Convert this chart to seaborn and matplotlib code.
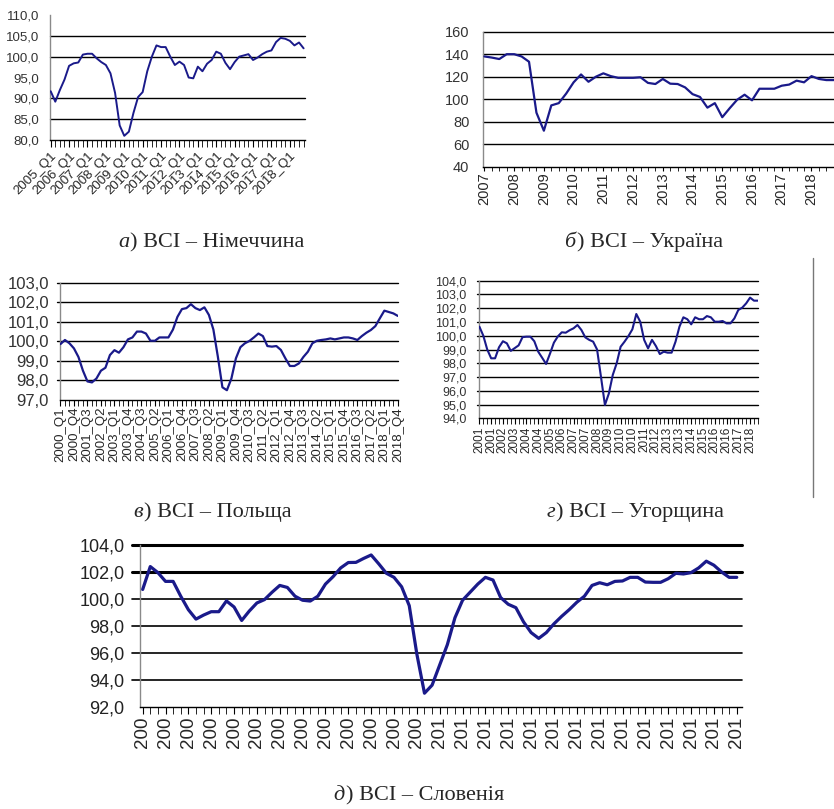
import matplotlib
matplotlib.use("Agg")
import matplotlib.pyplot as plt
import seaborn as sns
import numpy as np
import pandas as pd
from matplotlib.ticker import FuncFormatter
from matplotlib.lines import Line2D
from matplotlib import font_manager

# ---------------- data ----------------
de_labels = ["2005_Q1", "2006_Q1", "2007_Q1", "2008_Q1", "2009_Q1", "2010_Q1", "2011_Q1",
             "2012_Q1", "2013_Q1", "2014_Q1", "2015_Q1", "2016_Q1", "2017_Q1", "2018_Q1"]
de_values = [91.7, 89.2, 92.0, 94.5, 97.8, 98.4, 98.6, 100.5, 100.7, 100.7,
             99.6, 98.7, 98.0, 96.0, 91.3, 83.5, 81.0, 82.0, 86.5, 90.3,
             91.5, 96.5, 100.0, 102.7, 102.3, 102.3, 100.0, 98.0, 98.8, 98.0,
             95.0, 94.8, 97.6, 96.5, 98.3, 99.2, 101.2, 100.7, 98.5, 97.0,
             98.7, 100.0, 100.3, 100.6, 99.2, 99.8, 100.6, 101.2, 101.5, 103.5,
             104.5, 104.3, 103.8, 102.7, 103.4, 102.0]

ua_labels = ["2007", "2008", "2009", "2010", "2011", "2012", "2013", "2014", "2015",
             "2016", "2017", "2018"]
ua_values = [138.0, 137.0, 135.7, 140.0, 140.0, 138.0, 133.3, 88.0, 72.0, 94.5,
             96.5, 105.0, 115.0, 122.0, 115.5, 120.0, 123.0, 120.5, 119.0, 119.0,
             119.0, 119.5, 114.5, 113.5, 118.0, 113.8, 113.5, 110.5, 104.5, 102.0,
             92.5, 96.5, 84.0, 92.0, 99.5, 104.0, 99.0, 109.3, 109.3, 109.3,
             112.0, 113.0, 116.5, 115.0, 120.5, 118.0, 117.0, 117.0]

pl_labels = ["2000_Q1", "2000_Q4", "2001_Q3", "2002_Q2", "2003_Q1", "2003_Q4", "2004_Q3",
             "2005_Q2", "2006_Q1", "2006_Q4", "2007_Q3", "2008_Q2", "2009_Q1", "2009_Q4",
             "2010_Q3", "2011_Q2", "2012_Q1", "2012_Q4", "2013_Q3", "2014_Q2", "2015_Q1",
             "2015_Q4", "2016_Q3", "2017_Q2", "2018_Q1", "2018_Q4"]
pl_values = [99.86, 100.07, 99.9, 99.64, 99.2, 98.5, 97.95, 97.9, 98.1, 98.5,
             98.65, 99.3, 99.55, 99.42, 99.7, 100.1, 100.2, 100.5, 100.5, 100.4,
             100.03, 100.03, 100.2, 100.2, 100.2, 100.6, 101.25, 101.65, 101.7, 101.9,
             101.7, 101.6, 101.74, 101.35, 100.6, 99.2, 97.65, 97.5, 98.1, 99.13,
             99.7, 99.9, 100.02, 100.2, 100.4, 100.27, 99.76, 99.73, 99.76, 99.56,
             99.13, 98.74, 98.74, 98.87, 99.2, 99.47, 99.9, 100.03, 100.07, 100.1,
             100.15, 100.1, 100.15, 100.2, 100.2, 100.15, 100.07, 100.27, 100.44, 100.58,
             100.78, 101.18, 101.57, 101.5, 101.43, 101.3]

hu_labels = ["2001", "2001", "2002", "2003", "2004", "2004", "2005", "2006", "2007", "2007",
             "2008", "2009", "2010", "2010", "2011", "2012", "2013", "2013", "2014", "2015",
             "2016", "2016", "2017", "2018"]
hu_values = [100.66, 100.0, 99.0, 98.36, 98.36, 99.16, 99.6, 99.45, 98.9, 99.1,
             99.3, 99.9, 99.93, 99.93, 99.6, 98.84, 98.4, 97.95, 98.7, 99.5,
             99.95, 100.25, 100.22, 100.4, 100.54, 100.78, 100.42, 99.88, 99.7, 99.57,
             99.0, 97.0, 94.97, 95.8, 97.15, 98.0, 99.2, 99.57, 99.98, 100.47,
             101.58, 101.02, 99.7, 99.08, 99.7, 99.25, 98.67, 98.84, 98.77, 98.77,
             99.57, 100.66, 101.34, 101.2, 100.83, 101.34, 101.2, 101.2, 101.43, 101.34,
             101.02, 101.02, 101.07, 100.9, 100.9, 101.26, 101.87, 102.04, 102.35, 102.77,
             102.55, 102.55]

si_labels = ["200"] * 13 + ["201"] * 14
si_values = [100.7, 102.4, 101.95, 101.3, 101.3, 100.2, 99.2, 98.5, 98.8, 99.05,
             99.05, 99.85, 99.4, 98.4, 99.1, 99.7, 99.95, 100.5, 101.0, 100.85,
             100.2, 99.9, 99.84, 100.2, 101.1, 101.65, 102.3, 102.7, 102.71, 103.0,
             103.26, 102.6, 101.9, 101.6, 100.9, 99.5, 95.9, 93.0, 93.6, 95.1,
             96.6, 98.6, 99.9, 100.5, 101.1, 101.6, 101.4, 100.1, 99.6, 99.35,
             98.3, 97.5, 97.07, 97.5, 98.15, 98.7, 99.2, 99.75, 100.2, 101.0,
             101.2, 101.05, 101.3, 101.33, 101.6, 101.6, 101.25, 101.23, 101.23, 101.5,
             101.9, 101.85, 101.95, 102.3, 102.8, 102.5, 102.0, 101.6, 101.6]

captions = [("а", ") BCI – Німеччина"), ("б", ") BCI – Україна"),
            ("в", ") BCI – Польща"), ("г", ") BCI – Угорщина"),
            ("д", ") BCI – Словенія")]

# ---------------- style ----------------
sns.set_style("white")
plt.rcParams["font.family"] = ["Liberation Sans", "DejaVu Sans"]
names = {f.name for f in font_manager.fontManager.ttflist}
NARROW = "Liberation Sans Narrow" if "Liberation Sans Narrow" in names else "Liberation Sans"
SERIF = ["Liberation Serif", "DejaVu Serif"]

W, H = 834, 809
fig = plt.figure(figsize=(W / 100, H / 100), dpi=100)
LINE = "#1a1a8a"
comma = FuncFormatter(lambda v, p: f"{v:.1f}".replace(".", ","))


def add_ax(l, t, r, b):
    return fig.add_axes([l / W, 1 - b / H, (r - l) / W, (b - t) / H])


def base(ax, values, lw):
    df = pd.DataFrame({"i": np.arange(len(values)), "v": values})
    sns.lineplot(data=df, x="i", y="v", ax=ax, color=LINE, lw=lw, zorder=3)
    ax.set_xlabel("")
    ax.set_ylabel("")
    for s in ("top", "right"):
        ax.spines[s].set_visible(False)
    ax.spines["left"].set_color("#8a8a8a")
    ax.spines["left"].set_linewidth(1.0)
    ax.spines["bottom"].set_color("black")
    ax.spines["bottom"].set_linewidth(1.0)
    ax.set_facecolor("none")


def grid(ax, levels, lw=1.0, ext=0.0, thick=()):
    for y in levels:
        ax.axhline(y, xmin=-ext, xmax=1, color="black",
                   lw=(2.2 if y in thick else lw), zorder=1, clip_on=False)


# ---- а) Germany ----
ax = add_ax(50, 15, 305, 140)
base(ax, de_values, 1.4)
ax.set_xlim(-0.15, 55.3)
ax.set_ylim(80, 110)
ax.set_yticks(np.arange(80, 111, 5))
ax.yaxis.set_major_formatter(comma)
grid(ax, [85, 90, 100, 105])
ax.set_xticks(np.arange(len(de_values)), minor=True)
ax.set_xticks(np.arange(0, len(de_values), 4))
ax.set_xticklabels(de_labels, rotation=45, ha="right", va="top", rotation_mode="anchor")
ax.tick_params(axis="x", which="both", length=5, color="black", direction="out",
               labelsize=9.5, pad=2, bottom=True)
ax.tick_params(axis="y", length=0, pad=8, labelsize=9.5, labelcolor="#333333")

# ---- б) Ukraine ----
ax = add_ax(483.3, 31.7, 836, 166.7)
base(ax, ua_values, 1.6)
ax.set_xlim(-0.15, 47.3)
ax.set_ylim(40, 160)
ax.set_yticks(np.arange(40, 161, 20))
grid(ax, [60, 80, 100, 120, 140, 160])
ax.set_xticks(np.arange(len(ua_values)), minor=True)
ax.set_xticks(np.arange(0, len(ua_values), 4))
ax.set_xticklabels(ua_labels, rotation=90, ha="center", va="top")
ax.tick_params(axis="x", which="both", length=3, color="black", direction="out",
               labelsize=10.5, pad=1, bottom=True)
ax.tick_params(axis="y", length=0, pad=10, labelsize=10.5, labelcolor="#333333")

# ---- в) Poland ----
ax = add_ax(60, 282.7, 398.3, 400)
base(ax, pl_values, 1.6)
ax.set_xlim(-0.1, 75.1)
ax.set_ylim(97, 103)
ax.set_yticks(np.arange(97, 103.1, 1))
ax.yaxis.set_major_formatter(comma)
grid(ax, [98, 99, 100, 101, 102, 103], ext=0.009)
ax.set_xticks(np.arange(len(pl_values)), minor=True)
ax.set_xticks(np.arange(0, len(pl_values), 3))
ax.set_xticklabels(pl_labels, rotation=90, ha="center", va="top")
ax.tick_params(axis="x", which="both", length=4, color="black", direction="out",
               labelsize=9.5, pad=1, bottom=True)
ax.tick_params(axis="y", length=0, pad=8, labelsize=12, labelcolor="#333333")

# ---- г) Hungary ----
ax = add_ax(479, 280.7, 758.3, 418.3)
base(ax, hu_values, 1.5)
ax.set_xlim(-0.1, 71.1)
ax.set_ylim(94, 104)
ax.set_yticks(np.arange(94, 104.1, 1))
ax.yaxis.set_major_formatter(comma)
grid(ax, [95, 96, 97, 98, 99, 100, 101, 102, 103, 104], ext=0.008)
ax.set_xticks(np.arange(len(hu_values)), minor=True)
ax.set_xticks(np.arange(0, len(hu_values), 3))
ax.set_xticklabels(hu_labels, rotation=90, ha="center", va="top")
ax.tick_params(axis="x", which="both", length=4, color="black", direction="out",
               labelsize=8.5, pad=2, bottom=True)
ax.tick_params(axis="y", length=0, pad=9, labelcolor="#333333")
for t in ax.get_yticklabels():
    t.set_fontfamily(NARROW)
    t.set_fontsize(10 if NARROW != "Liberation Sans" else 9)

# ---- д) Slovenia ----
ax = add_ax(140, 545, 741.7, 706.7)
base(ax, si_values, 2.3)
ax.set_xlim(-0.35, 78.65)
ax.set_ylim(92, 104)
ax.set_yticks(np.arange(92, 104.1, 2))
ax.yaxis.set_major_formatter(comma)
grid(ax, [94, 96, 98, 100, 102, 104], lw=1.2, ext=0.014, thick=(102, 104))
ax.set_xticks(np.arange(len(si_values)), minor=True)
ax.set_xticks(np.arange(0, len(si_values), 3))
ax.set_xticklabels(si_labels, rotation=90, ha="center", va="top")
ax.tick_params(axis="x", which="both", length=5, color="black", direction="out",
               labelsize=13.5, pad=2, bottom=True)
ax.tick_params(axis="y", length=0, pad=11, labelsize=13, labelcolor="#222222")

# vertical frame line at right of panel г
fig.add_artist(Line2D([813 / W, 813 / W], [1 - 258 / H, 1 - 497 / H],
                      color="#777777", lw=1.0))

# ---------------- captions ----------------
renderer = fig.canvas.get_renderer()
cap_pos = [(211, 247), (643, 247), (212, 517), (635, 517), (418, 800)]
for (letter, rest), (xc, yb) in zip(captions, cap_pos):
    t1 = fig.text(0, 0, letter, fontfamily=SERIF, fontstyle="italic",
                  fontsize=16, va="baseline", ha="left")
    t2 = fig.text(0, 0, rest, fontfamily=SERIF, fontsize=16,
                  va="baseline", ha="left")
    w1 = t1.get_window_extent(renderer).width
    w2 = t2.get_window_extent(renderer).width
    x0 = xc - (w1 + w2) / 2
    t1.set_position((x0 / W, 1 - yb / H))
    t2.set_position(((x0 + w1 + 1) / W, 1 - yb / H))

fig.savefig("out.png", dpi=100, facecolor="white")
